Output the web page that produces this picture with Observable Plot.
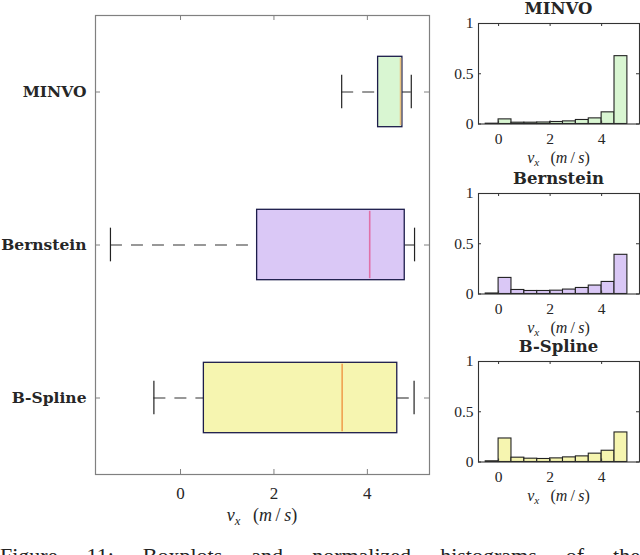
<!DOCTYPE html>
<html>
<head>
<meta charset="utf-8">
<script src="https://cdn.jsdelivr.net/npm/d3@7"></script>
<script src="https://cdn.jsdelivr.net/npm/@observablehq/plot@0.6"></script>
<style>
  html, body { margin: 0; padding: 0; background: #fff; }
  #wrap { position: relative; width: 640px; height: 555px; overflow: hidden; }
  #wrap svg { position: absolute; overflow: visible; }
  #caption { position: absolute; left: 0; top: 543px; width: 640px; font-family: 'Liberation Serif', 'Times New Roman', Times, serif; font-size: 22px; color: #222; text-align: justify; text-align-last: justify; line-height: normal; }
</style>
</head>
<body>
<div id="wrap"><div id="caption">Figure 11: Boxplots and normalized histograms of the</div></div>
<script>
// ---- Data ----
const methods = ["MINVO", "Bernstein", "B-Spline"];
const rowPos = [3, 2, 1];
const q1 = [4.23, 1.64, 0.50];
const medians = [4.71, 4.05, 3.46];
const q3 = [4.75, 4.80, 4.64];
const whiskerLow = [3.45, -1.50, -0.57];
const whiskerHigh = [4.94, 5.01, 5.00];
const fillColors = ["#d9f6d2", "#dac8f6", "#f6f5b0"];
const medianColors = ["#e8c080", "#e070a8", "#f0a050"];

const binLow = [-0.5, 0, 0.5, 1, 1.5, 2, 2.5, 3, 3.5, 4, 4.5];
const binHigh = [0, 0.5, 1, 1.5, 2, 2.5, 3, 3.5, 4, 4.5, 5];
const histMINVO = [0.003, 0.046, 0.013, 0.013, 0.015, 0.020, 0.026, 0.040, 0.056, 0.116, 0.675];
const histBernstein = [0.005, 0.160, 0.040, 0.030, 0.030, 0.033, 0.044, 0.060, 0.084, 0.120, 0.390];
const histBSpline = [0.007, 0.234, 0.043, 0.033, 0.030, 0.036, 0.046, 0.056, 0.083, 0.112, 0.294];

const mainXTicks = [0, 2, 4];
const histXTicks = [0, 2, 4];
const histYTicks = [0, 0.5, 1];

// ---- Helpers ----
const serif = "'Liberation Serif', 'Times New Roman', Times, serif";
const boldSerif = "'DejaVu Serif', serif";
const textColor = "#262626";
function mathLabel(svg, cx, baseline, fs) {
  const t = d3.select(svg).append("text")
    .attr("x", cx).attr("y", baseline)
    .attr("text-anchor", "middle")
    .style("font-family", serif)
    .attr("font-size", fs)
    .attr("fill", textColor);
  t.append("tspan").attr("font-style", "italic").text("v");
  t.append("tspan").attr("font-style", "italic").attr("font-size", fs * 0.7).attr("dy", fs * 0.22).text("x");
  t.append("tspan").attr("dy", -fs * 0.22).text("\u2002\u2009(");
  t.append("tspan").attr("font-style", "italic").text("m\u2009");
  t.append("tspan").text("/");
  t.append("tspan").attr("font-style", "italic").text("\u2009s");
  t.append("tspan").text(")");
}

const wrap = document.getElementById("wrap");

// ---- Main boxplot ----
const boxes = methods.map((m, i) => ({
  name: m, pos: rowPos[i], q1: q1[i], med: medians[i], q3: q3[i],
  lo: whiskerLow[i], hi: whiskerHigh[i], fill: fillColors[i], mc: medianColors[i]
}));
const mW = 440, mH = 530, mL = 95, mR = 11, mT = 15, mB = 56;
const innerW = mW - mL - mR, innerH = mH - mT - mB;
const axisGray = "#808080";
const halfBox = 0.23, halfCap = 0.11;

const main = Plot.plot({
  width: mW, height: mH,
  marginLeft: mL, marginRight: mR, marginTop: mT, marginBottom: mB,
  style: { fontFamily: serif, fontSize: "17px", color: textColor, background: "transparent" },
  x: { domain: [-1.82, 5.33] },
  y: { domain: [0.5, 3.5] },
  marks: [
    Plot.ruleY(boxes, { y: "pos", x1: "lo", x2: "q1", stroke: "#333", strokeWidth: 1.1, strokeDasharray: "12,9" }),
    Plot.ruleY(boxes, { y: "pos", x1: "q3", x2: "hi", stroke: "#333", strokeWidth: 1.1, strokeDasharray: "12,9" }),
    Plot.ruleX(boxes, { x: "lo", y1: d => d.pos - halfCap, y2: d => d.pos + halfCap, stroke: "#222", strokeWidth: 1.2 }),
    Plot.ruleX(boxes, { x: "hi", y1: d => d.pos - halfCap, y2: d => d.pos + halfCap, stroke: "#222", strokeWidth: 1.2 }),
    Plot.rect(boxes, { x1: "q1", x2: "q3", y1: d => d.pos - halfBox, y2: d => d.pos + halfBox, fill: "fill", stroke: "#1c1c4a", strokeWidth: 1.3, inset: 0 }),
    Plot.ruleX(boxes, { x: "med", y1: d => d.pos - halfBox + 0.01, y2: d => d.pos + halfBox - 0.01, stroke: "mc", strokeWidth: 1.6 }),
    Plot.frame({ stroke: axisGray, strokeWidth: 1.2 }),
    Plot.tickX(mainXTicks, { x: d => d, insetTop: innerH - 5, stroke: axisGray }),
    Plot.tickX(mainXTicks, { x: d => d, insetBottom: innerH - 5, stroke: axisGray }),
    Plot.tickY(rowPos, { y: d => d, insetRight: innerW - 5, stroke: axisGray }),
    Plot.tickY(rowPos, { y: d => d, insetLeft: innerW - 5, stroke: axisGray }),
    Plot.axisX({ ticks: mainXTicks, tickSize: 0, tickPadding: 12, tickFormat: d => String(d), fontSize: 17, fontFamily: serif, label: null }),
    Plot.axisY({ ticks: rowPos, tickSize: 0, tickPadding: 9, tickFormat: d => methods[rowPos.indexOf(d)], fontWeight: "bold", fontSize: 15.5, fontFamily: boldSerif, label: null })
  ]
});
main.style.left = "0px"; main.style.top = "0px";
wrap.appendChild(main);
mathLabel(main, mL + innerW / 2, 521, 18);

// ---- Histograms ----
const hists = [
  { title: "MINVO", values: histMINVO, fill: fillColors[0], top: 0 },
  { title: "Bernstein", values: histBernstein, fill: fillColors[1], top: 170 },
  { title: "B-Spline", values: histBSpline, fill: fillColors[2], top: 338 }
];
const hW = 200, hH = 170, hL = 38, hR = 1, hT = 23, hB = 46.5;
const hInnerW = hW - hL - hR, hInnerH = hH - hT - hB;
const histAxis = "#333";

for (const h of hists) {
  const bins = binLow.map((lo, i) => ({ lo, hi: binHigh[i], v: h.values[i] }));
  const p = Plot.plot({
    width: hW, height: hH,
    marginLeft: hL, marginRight: hR, marginTop: hT, marginBottom: hB,
    style: { fontFamily: serif, fontSize: "15.5px", color: textColor, background: "transparent" },
    x: { domain: [-0.78, 5.47] },
    y: { domain: [0, 1] },
    marks: [
      Plot.rectY(bins, { x1: "lo", x2: "hi", y: "v", fill: h.fill, stroke: "#222", strokeWidth: 1.1, inset: 0 }),
      Plot.frame({ stroke: histAxis, strokeWidth: 1.1 }),
      Plot.tickX(histXTicks, { x: d => d, insetTop: hInnerH - 3, stroke: histAxis }),
      Plot.tickX(histXTicks, { x: d => d, insetBottom: hInnerH - 3, stroke: histAxis }),
      Plot.tickY(histYTicks, { y: d => d, insetRight: hInnerW - 3, stroke: histAxis }),
      Plot.tickY(histYTicks, { y: d => d, insetLeft: hInnerW - 3, stroke: histAxis }),
      Plot.axisX({ ticks: histXTicks, tickSize: 0, tickPadding: 8.5, tickFormat: d => String(d), fontSize: 15.5, fontFamily: serif, label: null }),
      Plot.axisY({ ticks: histYTicks, tickSize: 0, tickPadding: 5, tickFormat: d => String(d), fontSize: 15.5, fontFamily: serif, label: null })
    ]
  });
  p.style.left = "440px"; p.style.top = h.top + "px";
  wrap.appendChild(p);
  d3.select(p).append("text")
    .attr("x", hL + hInnerW / 2).attr("y", hT - 9)
    .attr("text-anchor", "middle")
    .style("font-family", boldSerif).attr("font-weight", "bold").attr("font-size", 16.5)
    .attr("fill", textColor).text(h.title);
  mathLabel(p, hL + hInnerW / 2, hT + hInnerH + 39, 16);
}
</script>
</body>
</html>
